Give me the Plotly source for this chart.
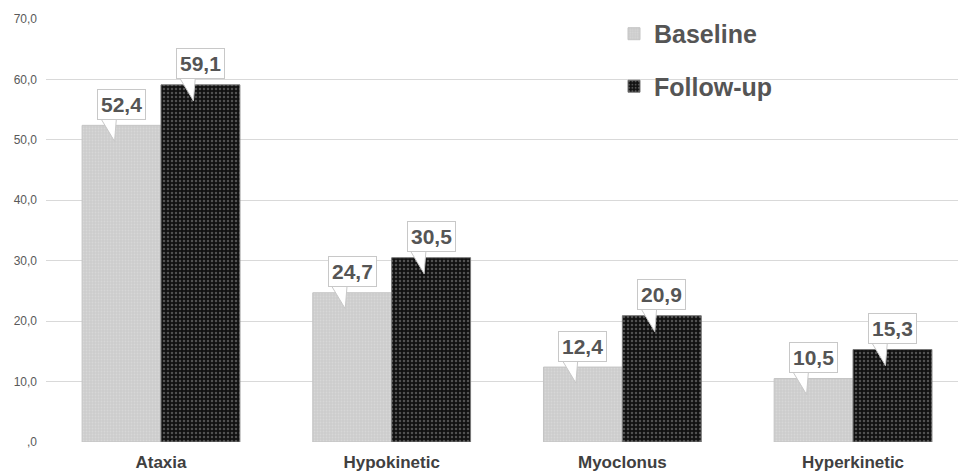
import plotly.graph_objects as go

categories = ["Ataxia", "Hypokinetic", "Myoclonus", "Hyperkinetic"]
baseline = [52.4, 24.7, 12.4, 10.5]
followup = [59.1, 30.5, 20.9, 15.3]
baseline_labels = ["52,4", "24,7", "12,4", "10,5"]
followup_labels = ["59,1", "30,5", "20,9", "15,3"]
y_tick_vals = [0, 10, 20, 30, 40, 50, 60, 70]
y_tick_text = [",0", "10,0", "20,0", "30,0", "40,0", "50,0", "60,0", "70,0"]

W, H = 958, 473
ML, MR, MT, MB = 46, 0, 19, 31
XR = [-0.4985, 3.455]
YR = [0, 70]
px_x = (XR[1] - XR[0]) / (W - ML - MR)
px_y = (YR[1] - YR[0]) / (H - MT - MB)

xs = list(range(len(categories)))
bargap = 0.316
bw = (1 - bargap) / 2

fig = go.Figure()
fig.add_trace(go.Bar(
    x=xs, y=baseline, name="Baseline", legendgroup="a",
    marker=dict(color="#cfcfcf", line=dict(color="#c4c4c4", width=1),
                pattern=dict(shape=".", fgcolor="#e2e2e2", bgcolor="#cccccc",
                             size=3, solidity=0.3)),
))
fig.add_trace(go.Bar(
    x=xs, y=followup, name="Follow-up", legendgroup="b",
    marker=dict(color="#111111", line=dict(color="#777777", width=1),
                pattern=dict(shape=".", fgcolor="#8f8f8f", bgcolor="#111111",
                             size=4, solidity=0.3)),
))

shapes = []
annotations = []
for series, labels, off in [(baseline, baseline_labels, -bw / 2),
                            (followup, followup_labels, bw / 2)]:
    for i, (v, lab) in enumerate(zip(series, labels)):
        cx = i + off
        x0 = cx - 22 * px_x
        x1 = cx - 5 * px_x
        xt = cx - 7 * px_x
        yb = v + 9 * px_y
        yt = v - 16 * px_y
        shapes.append(dict(
            type="path", xref="x", yref="y", layer="above",
            path=f"M {x0},{yb} L {xt},{yt} L {x1},{yb} Z",
            fillcolor="white", line=dict(color="#c8c8c8", width=1),
        ))
        annotations.append(dict(
            x=cx, y=v, xref="x", yref="y", yshift=21, showarrow=False,
            text=f"<b>{lab}</b>",
            font=dict(family="Liberation Sans, Arial", size=21, color="#555555"),
            bgcolor="white", bordercolor="#c8c8c8", borderwidth=1, borderpad=3,
        ))

fig.update_layout(
    width=W, height=H,
    margin=dict(l=ML, r=MR, t=MT, b=MB),
    paper_bgcolor="white", plot_bgcolor="white",
    barmode="group", bargap=bargap, bargroupgap=0,
    showlegend=True,
    legend=dict(
        x=(614 - ML) / (W - ML - MR), y=1.019, xanchor="left", yanchor="top",
        bgcolor="rgba(0,0,0,0)", traceorder="grouped", tracegroupgap=17,
        font=dict(family="Liberation Sans, Arial", size=25, color="#555555",
                  weight="bold"),
    ),
    xaxis=dict(
        range=XR, tickmode="array", tickvals=xs, ticktext=categories,
        tickfont=dict(family="Liberation Sans, Arial", size=17, color="#404040",
                      weight="bold"),
        showgrid=False, zeroline=False, showline=False, ticks="",
        ticklabelstandoff=8,
    ),
    yaxis=dict(
        range=YR, tickmode="array", tickvals=y_tick_vals, ticktext=y_tick_text,
        tickfont=dict(family="Liberation Sans, Arial", size=12, color="#595959"),
        showgrid=True, gridcolor="#d9d9d9", gridwidth=1, zeroline=False,
        showline=False, ticks="", ticklabelstandoff=8,
    ),
    shapes=shapes,
    annotations=annotations,
)

fig.write_html("out.html", config={"displayModeBar": False},
               post_script="document.body.style.margin='0';")
